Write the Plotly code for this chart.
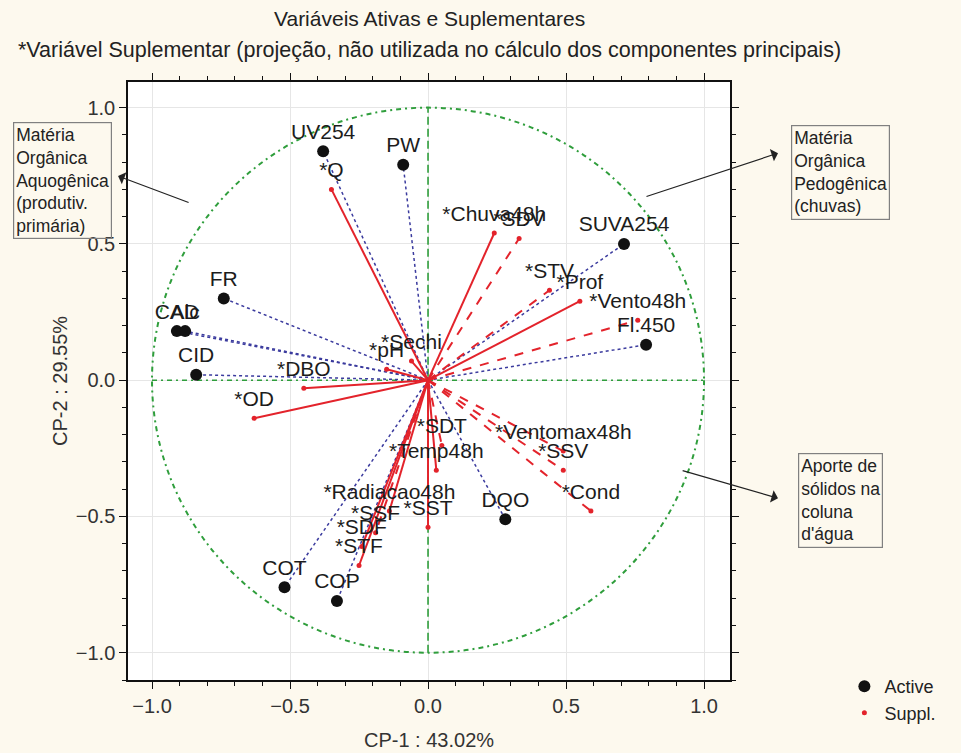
import plotly.graph_objects as go

# Active variables (loadings on CP-1 / CP-2)
active_names = ["UV254", "PW", "SUVA254", "Fl.450", "FR", "CAD", "Alc", "CID",
                "DQO", "COT", "COP"]
active_x = [-0.38, -0.09, 0.71, 0.79, -0.74, -0.91, -0.88, -0.84, 0.28, -0.52, -0.33]
active_y = [0.84, 0.79, 0.50, 0.13, 0.30, 0.18, 0.18, 0.02, -0.51, -0.76, -0.81]

# Supplementary variables (projected)
supp_names = ["*Q", "*Chuva48h", "*SDV", "*STV", "*Prof", "*Vento48h", "*Sechi",
              "*pH", "*DBO", "*OD", "*SDT", "*Temp48h", "*Ventomax48h", "*SSV",
              "*Cond", "*Radiacao48h", "*SST", "*SSF", "*SDF", "*STF"]
supp_x = [-0.35, 0.24, 0.33, 0.44, 0.55, 0.76, -0.06, -0.15, -0.45, -0.63, 0.05,
          0.03, 0.49, 0.49, 0.59, -0.14, 0.00, -0.19, -0.24, -0.25]
supp_y = [0.70, 0.54, 0.52, 0.33, 0.29, 0.22, 0.07, 0.04, -0.03, -0.14, -0.24,
          -0.33, -0.26, -0.33, -0.48, -0.48, -0.54, -0.56, -0.61, -0.68]
supp_dashed = [False, False, True, True, False, True, False, False, False, False,
               True, False, True, True, True, False, False, True, False, False]

FONT = "Arial, Liberation Sans, sans-serif"
RED = "#e3232b"
GREEN = "#2f9e3c"
NAVY = "#3b3b9e"


def rays(xs, ys):
    """Segments from the origin to each loading, separated by gaps."""
    lx, ly = [], []
    for x, y in zip(xs, ys):
        lx += [0, x, None]
        ly += [0, y, None]
    return lx, ly


fig = go.Figure()

# dotted blue rays for the active variables
ax_, ay_ = rays(active_x, active_y)
fig.add_trace(go.Scatter(x=ax_, y=ay_, mode="lines", showlegend=False,
                         hoverinfo="skip",
                         line=dict(color=NAVY, width=1.5, dash="dot")))

# red rays for the supplementary variables (solid and dashed groups)
for dashed in (False, True):
    xs = [x for x, d in zip(supp_x, supp_dashed) if d == dashed]
    ys = [y for y, d in zip(supp_y, supp_dashed) if d == dashed]
    rx, ry = rays(xs, ys)
    fig.add_trace(go.Scatter(x=rx, y=ry, mode="lines", showlegend=False,
                             hoverinfo="skip",
                             line=dict(color=RED, width=2,
                                       dash="dash" if dashed else "solid")))

# markers
fig.add_trace(go.Scatter(x=active_x, y=active_y, mode="markers", name="Active",
                         marker=dict(color="#111111", size=12)))
fig.add_trace(go.Scatter(x=supp_x, y=supp_y, mode="markers", name="Suppl.",
                         marker=dict(color=RED, size=5)))

# labels above each point (transparent markers set the text offset)
label_font = dict(family=FONT, size=21, color="#1c1c1c")
for names, xs, ys in ((active_names, active_x, active_y),
                      (supp_names, supp_x, supp_y)):
    fig.add_trace(go.Scatter(x=xs, y=ys, mode="markers+text", text=names,
                             textposition="top center", showlegend=False,
                             textfont=label_font, hoverinfo="skip",
                             marker=dict(size=10, opacity=0)))

# unit circle and the two zero axes
fig.add_shape(type="circle", x0=-1, x1=1, y0=-1, y1=1, layer="between",
              line=dict(color=GREEN, width=2, dash="5px,4px,2px,4px"))
fig.add_shape(type="line", x0=0, x1=0, y0=-1, y1=1, layer="between",
              line=dict(color=GREEN, width=1.6, dash="8px,4px"))
fig.add_shape(type="line", x0=-1, x1=1, y0=0, y1=0, layer="between",
              line=dict(color=GREEN, width=1.6, dash="5px,4px,2px,4px"))

# interpretation boxes with arrows
box_font = dict(family=FONT, size=17.5, color="#222222")
boxes = [
    ("Matéria<br>Orgânica<br>Aquogênica<br>(produtiv.<br>primária)", -0.1096, 0.836),
    ("Matéria<br>Orgânica<br>Pedogênica<br>(chuvas)", 1.183, 0.849),
    ("Aporte de<br>sólidos na<br>coluna<br>d'água", 1.183, 0.301),
]
for text, bx, by in boxes:
    fig.add_annotation(x=bx, y=by, xref="paper", yref="paper", text=text,
                       showarrow=False, xanchor="center", yanchor="middle",
                       align="left", font=box_font, bordercolor="#808080",
                       borderwidth=1.2, borderpad=2)

arrows = [(-1.123, 0.749, -0.862, 0.650),
          (1.268, 0.833, 0.786, 0.672),
          (1.268, -0.433, 0.917, -0.330)]
for hx, hy, tx, ty in arrows:
    fig.add_annotation(x=hx, y=hy, ax=tx, ay=ty, xref="x", yref="y",
                       axref="x", ayref="y", text="", showarrow=True,
                       arrowhead=1, arrowsize=1.8, arrowwidth=1.2,
                       arrowcolor="#222222")

# titles
fig.add_annotation(x=0.5, y=1.107, xref="paper", yref="paper", yanchor="middle",
                   text="Variáveis Ativas e Suplementares", showarrow=False,
                   font=dict(family=FONT, size=21, color="#222222"))
fig.add_annotation(x=0.5, y=1.053, xref="paper", yref="paper", yanchor="middle",
                   text="*Variável Suplementar (projeção, não utilizada no cálculo dos componentes principais)",
                   showarrow=False, font=dict(family=FONT, size=21.5, color="#222222"))

# axis titles
axis_title_font = dict(family=FONT, size=20, color="#333333")
fig.add_annotation(x=0.5, y=-0.1003, xref="paper", yref="paper",
                   xanchor="center", yanchor="middle", text="CP-1 : 43.02%",
                   showarrow=False, font=axis_title_font)
fig.add_annotation(x=-0.113, y=0.5, xref="paper", yref="paper",
                   xanchor="center", yanchor="middle", text="CP-2 : 29.55%",
                   textangle=-90, showarrow=False, font=axis_title_font)

axis_common = dict(
    tickmode="linear", tick0=0, dtick=0.5, tickformat=".1f",
    showline=True, linecolor="#111111", linewidth=1.5, mirror="allticks",
    ticks="outside", ticklen=7, tickcolor="#111111", tickwidth=1.2,
    showgrid=True, gridcolor="#e6e6e6", gridwidth=1, zeroline=False,
    tickfont=dict(family=FONT, size=20, color="#333333"),
    minor=dict(dtick=0.1, ticks="outside", ticklen=4, tickcolor="#111111",
               showgrid=False),
    automargin=False,
)

fig.update_xaxes(range=[-1.087, 1.094], **axis_common)
fig.update_yaxes(range=[-1.10, 1.094], **axis_common)

fig.update_layout(
    width=961, height=753,
    margin=dict(l=128, r=231, t=82, b=73),
    paper_bgcolor="#fdf9ee", plot_bgcolor="#ffffff",
    font=dict(family=FONT),
    legend=dict(x=1.19, y=0.020, xanchor="left", yanchor="top",
                bgcolor="rgba(0,0,0,0)",
                font=dict(family=FONT, size=18, color="#222222"),
                tracegroupgap=0),
)

fig.write_html("out.html")
